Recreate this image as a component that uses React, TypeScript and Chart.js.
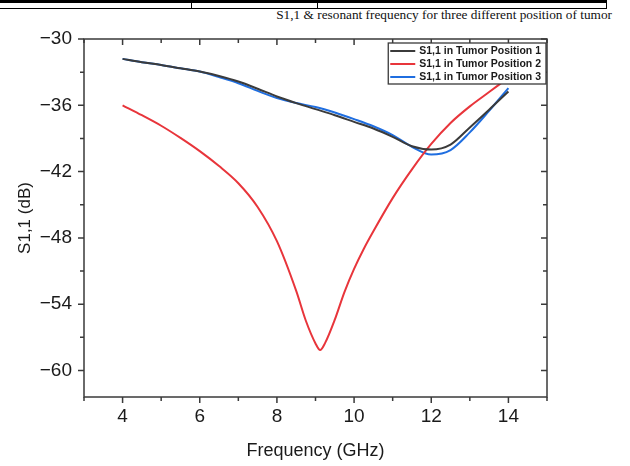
import React, { useEffect, useRef } from "react";
import { Chart, registerables } from "chart.js";

Chart.register(...registerables);

// Frequency sweep (GHz) shared by tumor positions 1 and 3
const freqP1P3 = [4, 4.5, 5, 5.5, 6, 6.5, 7, 7.5, 8, 8.5, 9, 9.5, 10, 10.5, 11, 11.5, 12, 12.5, 13, 13.5, 14];
// S1,1 (dB), tumor position 1
const tumorPos1 = [-31.8, -32.1, -32.35, -32.65, -32.95, -33.35, -33.85, -34.5, -35.2, -35.8, -36.35, -36.9, -37.5, -38.1, -38.85, -39.7, -40.0, -39.55, -38.0, -36.4, -34.75];
// S1,1 (dB), tumor position 3
const tumorPos3 = [-31.8, -32.1, -32.35, -32.65, -32.95, -33.45, -34.0, -34.7, -35.35, -35.8, -36.15, -36.65, -37.25, -37.9, -38.7, -39.75, -40.45, -40.05, -38.45, -36.5, -34.45];

// Tumor position 2 has a sharp resonance, sampled more finely near the dip
const freqP2 = [4, 4.5, 5, 5.5, 6, 6.5, 7, 7.5, 8, 8.5, 8.75, 9.0, 9.12, 9.25, 9.5, 9.75, 10, 10.25, 10.5, 11, 11.5, 12, 12.5, 13, 13.5, 14];
const tumorPos2 = [-36.0, -36.9, -37.85, -38.95, -40.15, -41.5, -43.05, -45.2, -48.3, -52.8, -55.5, -57.55, -58.15, -57.5, -55.4, -52.9, -50.8, -49.0, -47.4, -44.4, -41.8, -39.5, -37.6, -36.1, -34.8, -33.5];

const seriesLabels = ["S1,1 in Tumor Position 1", "S1,1 in Tumor Position 2", "S1,1 in Tumor Position 3"];
const seriesColors = ["#3b3b3b", "#e8353b", "#1f6ee0"];

const xTickLabels = [4, 6, 8, 10, 12, 14];
const yTickLabels = [-30, -36, -42, -48, -54, -60];

const titleText = "S1,1 & resonant frequency for three different position of tumor";

const FRAME = "#3a3a3a";
const SANS = "'Liberation Sans', Arial, sans-serif";

const toPoints = (xs: number[], ys: number[]) => xs.map((x, i) => ({ x, y: ys[i] }));

// Draws the boxed frame with outward ticks on left/bottom and inward mirror ticks on top/right,
// then the framed legend in the upper-right corner of the plot.
const framePlugin = {
  id: "frameAndLegend",
  afterDraw(chart: any) {
    const { ctx, chartArea: a } = chart;
    const xs = chart.scales.x;
    const ys = chart.scales.y;
    ctx.save();
    ctx.strokeStyle = FRAME;
    ctx.lineWidth = 1.5;
    ctx.strokeRect(a.left, a.top, a.right - a.left, a.bottom - a.top);

    ctx.beginPath();
    xs.ticks.forEach((t: any) => {
      const v = t.value;
      if (Math.abs(v - Math.round(v)) > 1e-6) return;
      const px = xs.getPixelForValue(v);
      const len = Math.round(v) % 2 === 0 ? 6 : 4;
      ctx.moveTo(px, a.bottom);
      ctx.lineTo(px, a.bottom + len);
      ctx.moveTo(px, a.top);
      ctx.lineTo(px, a.top + len);
    });
    ys.ticks.forEach((t: any) => {
      const v = t.value;
      if (Math.abs(v - Math.round(v)) > 1e-6 || Math.round(v) % 3 !== 0) return;
      const py = ys.getPixelForValue(v);
      const len = Math.round(v) % 6 === 0 ? 6 : 4;
      ctx.moveTo(a.left, py);
      ctx.lineTo(a.left - len, py);
      ctx.moveTo(a.right, py);
      ctx.lineTo(a.right - len, py);
    });
    ctx.stroke();

    // legend
    ctx.font = `bold 10.5px ${SANS}`;
    const labels = chart.data.datasets.map((d: any) => d.label);
    const textW = Math.max(...labels.map((l: string) => ctx.measureText(l).width));
    const sample = 25;
    const rowH = 13;
    const boxW = 2 + sample + 4 + textW + 5;
    const boxH = rowH * labels.length + 2;
    const bx = a.right - 1 - boxW;
    const by = a.top + 4;
    ctx.fillStyle = "#ffffff";
    ctx.fillRect(bx, by, boxW, boxH);
    ctx.lineWidth = 1.3;
    ctx.strokeStyle = FRAME;
    ctx.strokeRect(bx, by, boxW, boxH);
    ctx.textBaseline = "middle";
    ctx.textAlign = "left";
    chart.data.datasets.forEach((d: any, i: number) => {
      const cy = by + 8 + i * rowH;
      ctx.strokeStyle = d.borderColor;
      ctx.lineWidth = 2;
      ctx.beginPath();
      ctx.moveTo(bx + 2, cy);
      ctx.lineTo(bx + 2 + sample, cy);
      ctx.stroke();
      ctx.fillStyle = "#1a1a1a";
      ctx.fillText(d.label, bx + 2 + sample + 4, cy + 0.5);
    });
    ctx.restore();
  },
};

export default function App() {
  const canvasRef = useRef<HTMLCanvasElement | null>(null);

  useEffect(() => {
    const canvas = canvasRef.current;
    if (!canvas) return;
    const line = (label: string, color: string, xs: number[], ys: number[]) => ({
      label,
      data: toPoints(xs, ys),
      borderColor: color,
      backgroundColor: color,
      borderWidth: 2,
      pointRadius: 0,
      cubicInterpolationMode: "monotone" as const,
      fill: false,
    });
    const chart = new Chart(canvas, {
      type: "line",
      data: {
        datasets: [
          line(seriesLabels[0], seriesColors[0], freqP1P3, tumorPos1),
          line(seriesLabels[1], seriesColors[1], freqP2, tumorPos2),
          line(seriesLabels[2], seriesColors[2], freqP1P3, tumorPos3),
        ],
      },
      options: {
        responsive: false,
        animation: false,
        devicePixelRatio: 1,
        layout: { padding: { top: 39, right: 83, left: 0, bottom: 0 } },
        plugins: {
          legend: { display: false },
          title: { display: false },
          tooltip: { enabled: false },
        },
        scales: {
          x: {
            type: "linear",
            min: 3,
            max: 15,
            grid: { display: false, drawTicks: false },
            border: { display: false },
            ticks: {
              stepSize: 1,
              autoSkip: false,
              maxRotation: 0,
              padding: 8,
              color: "#1a1a1a",
              font: { family: SANS, size: 19 },
              callback: (v: any) => (xTickLabels.includes(Number(v)) ? String(v) : ""),
            },
            title: {
              display: true,
              text: "Frequency (GHz)",
              color: "#1a1a1a",
              font: { family: SANS, size: 18 },
              padding: { top: 0, bottom: 4 },
            },
            afterFit: (s: any) => {
              s.height = 69;
            },
          },
          y: {
            type: "linear",
            min: -62.4,
            max: -30,
            grid: { display: false, drawTicks: false },
            border: { display: false },
            ticks: {
              stepSize: 3,
              autoSkip: false,
              padding: 12,
              color: "#1a1a1a",
              font: { family: SANS, size: 19 },
              callback: (v: any) =>
                yTickLabels.includes(Number(v)) ? String(v).replace("-", "\u2212") : "",
            },
            title: {
              display: true,
              text: "S1,1 (dB)",
              color: "#1a1a1a",
              font: { family: SANS, size: 17 },
              padding: { top: 15, bottom: 0 },
            },
            afterFit: (s: any) => {
              s.width = 84;
            },
          },
        },
      },
      plugins: [framePlugin],
    });
    return () => chart.destroy();
  }, []);

  const rule = (style: React.CSSProperties): React.CSSProperties => ({
    position: "absolute",
    background: "#000",
    ...style,
  });

  return (
    <div style={{ position: "absolute", left: 0, top: 0, width: 630, height: 466, background: "#fff", overflow: "hidden" }}>
      <div style={rule({ left: 0, top: 0, width: 607, height: 3 })} />
      <div style={rule({ left: 0, top: 8, width: 607, height: 1 })} />
      <div style={rule({ left: 191, top: 0, width: 1, height: 9 })} />
      <div style={rule({ left: 317, top: 0, width: 1, height: 9 })} />
      <div style={rule({ left: 606, top: 0, width: 1, height: 9 })} />
      <div
        style={{
          position: "absolute",
          right: 18,
          top: 7,
          fontFamily: "'Liberation Serif', 'Times New Roman', serif",
          fontSize: 13.3,
          lineHeight: "15px",
          color: "#111",
          whiteSpace: "nowrap",
        }}
      >
        {titleText}
      </div>
      <canvas ref={canvasRef} width={630} height={466} style={{ position: "absolute", left: 0, top: 0 }} />
    </div>
  );
}
